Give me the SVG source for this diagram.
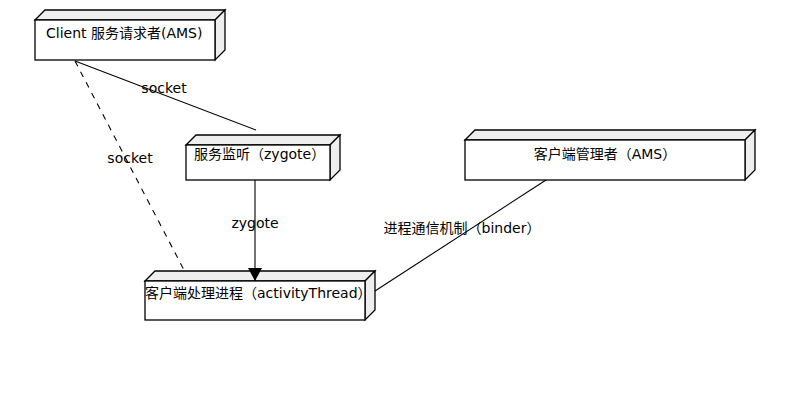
<svg xmlns="http://www.w3.org/2000/svg" width="785" height="411" viewBox="0 0 785 411">
<style>
.front{fill:#ffffff;stroke:#000;stroke-width:1.3}
.side{fill:#eeeeee;stroke:#000;stroke-width:1.3;stroke-linejoin:miter}
.t{font-family:"DejaVu Sans","Noto Sans CJK SC",sans-serif;font-size:14px;fill:#000}
.c{stroke:#000;stroke-width:1.1;fill:none}
.dash{stroke-dasharray:6,6}
</style>
<defs>
<marker id="arr" markerWidth="13" markerHeight="14" refX="13" refY="7" orient="auto" markerUnits="userSpaceOnUse">
<path d="M0,0 L13,7 L0,14 Z" fill="#000"/>
</marker>
</defs>
<rect width="785" height="411" fill="#fff"/>
<g id="client">
<polygon class="side" points="35,20 45,10 225,10 215,20"/>
<polygon class="side" points="215,20 225,10 225,50 215,60"/>
<rect class="front" x="35" y="20" width="180" height="40"/>
<text class="t" x="46" y="38">Client 服务请求者(AMS)</text>
</g>
<g id="zygote">
<polygon class="side" points="186,145 196,135 340,135 330,145"/>
<polygon class="side" points="330,145 340,135 340,170 330,180"/>
<rect class="front" x="186" y="145" width="144" height="35"/>
<text class="t" x="194" y="159">服务监听（zygote）</text>
</g>
<g id="ams">
<polygon class="side" points="465,140 475,130 755,130 745,140"/>
<polygon class="side" points="745,140 755,130 755,170 745,180"/>
<rect class="front" x="465" y="140" width="280" height="40"/>
<text class="t" x="605" y="159" text-anchor="middle">客户端管理者（AMS）</text>
</g>
<g id="activity">
<polygon class="side" points="145,281 155,271 375,271 365,281"/>
<polygon class="side" points="365,281 375,271 375,310 365,320"/>
<rect class="front" x="145" y="281" width="220" height="39"/>
<text class="t" x="145" y="298">客户端处理进程（activityThread）</text>
</g>
<g id="connectors">
<line class="c" x1="75" y1="61" x2="256" y2="130"/>
<line class="c dash" x1="75" y1="61" x2="184" y2="270"/>
<line class="c" x1="255" y1="180" x2="255" y2="281" marker-end="url(#arr)"/>
<line class="c" x1="546" y1="180" x2="375" y2="291"/>
<text class="t" x="164" y="93" text-anchor="middle">socket</text>
<text class="t" x="130" y="163" text-anchor="middle">socket</text>
<text class="t" x="255" y="228" text-anchor="middle">zygote</text>
<text class="t" x="462" y="233" text-anchor="middle">进程通信机制（binder）</text>
</g>
</svg>
